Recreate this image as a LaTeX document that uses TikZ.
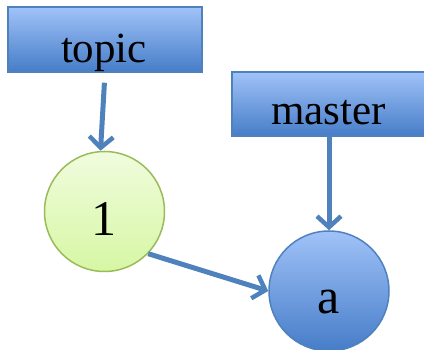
\documentclass[tikz,border=0pt]{standalone}
\usepackage{fontspec}
\setmainfont{Liberation Serif}
\usetikzlibrary{arrows.meta}
\definecolor{bluetop}{RGB}{160,194,248}
\definecolor{bluebot}{RGB}{70,125,200}
\definecolor{blueedge}{RGB}{79,129,189}
\definecolor{greentop}{RGB}{240,252,222}
\definecolor{greenbot}{RGB}{214,247,164}
\definecolor{greenedge}{RGB}{155,187,89}
\definecolor{arrcol}{RGB}{79,129,189}
\tikzset{
  bluebox/.style={rectangle, draw=blueedge, line width=1.5pt, top color=bluetop, bottom color=bluebot, inner sep=0pt},
  greencirc/.style={circle, draw=greenedge, line width=1.5pt, top color=greentop, bottom color=greenbot, minimum size=120pt, inner sep=0pt},
  bluecirc/.style={circle, draw=blueedge, line width=1.5pt, top color=bluetop, bottom color=bluebot, minimum size=120pt, inner sep=0pt},
  lblbox/.style={anchor=base, font=\fontsize{43}{43}\selectfont, inner sep=0pt},
  lblcirc/.style={anchor=base, font=\fontsize{50}{50}\selectfont, inner sep=0pt},
  arr/.style={draw=arrcol, line width=5pt, -{Straight Barb[length=11pt,width=24pt,line width=4.5pt]}}
}
\begin{document}
\begin{tikzpicture}[x=1pt,y=-1pt]
\useasboundingbox (0,0) rectangle (424,350);
\clip (0,0) rectangle (424,350);
\node[bluebox, minimum width=194pt, minimum height=65pt] (topic) at (105,39.5) {};
\node[lblbox] (topictxt) at (104,63) {topic};
\node[bluebox, minimum width=194pt, minimum height=64pt] (master) at (329,104) {};
\node[lblbox] (mastertxt) at (328.7,125) {master};
\node[greencirc] (c1) at (104.5,211.5) {};
\node[lblcirc] (c1txt) at (104.5,236) {1};
\node[bluecirc] (ca) at (329,291) {};
\node[lblcirc] (catxt) at (328.5,314) {a};
\draw[arr, shorten <=10pt] (topic.south) -- ([xshift=-4pt]c1.north);
\draw[arr] (master.south) -- (ca.north);
\draw[arr] (c1.-44) -- (ca.west);
\end{tikzpicture}
\end{document}
